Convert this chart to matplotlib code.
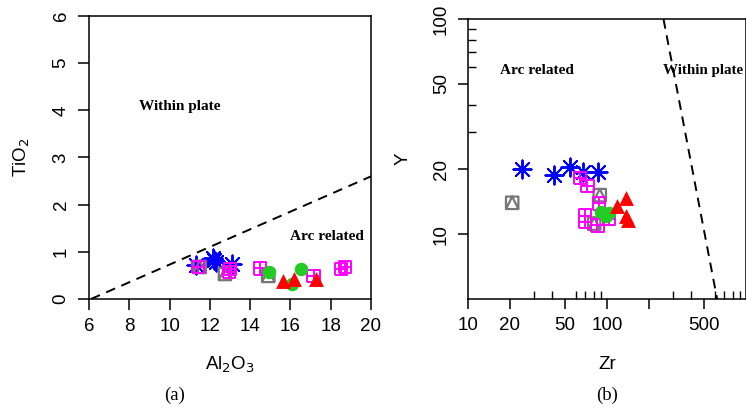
import matplotlib
matplotlib.use("Agg")
import matplotlib.pyplot as plt
from matplotlib.path import Path

# ---- data: panel (a) Al2O3 vs TiO2 ----
a_star_x = [11.3, 12.15, 12.3, 12.2, 13.1]
a_star_y = [0.72, 0.86, 0.78, 0.82, 0.74]
a_grey_x = [11.5, 12.75, 14.9]
a_grey_y = [0.68, 0.53, 0.49]
a_mag_x = [11.4, 12.95, 13.0, 14.5, 17.15, 18.5, 18.7]
a_mag_y = [0.68, 0.57, 0.64, 0.65, 0.49, 0.64, 0.68]
a_green_x = [14.95, 16.55, 16.1]
a_green_y = [0.58, 0.63, 0.32]
a_red_x = [15.65, 16.2, 17.27]
a_red_y = [0.38, 0.42, 0.42]
a_line_x = [6.1, 20.0]
a_line_y = [0.0, 2.6]

# ---- data: panel (b) Zr vs Y ----
b_star_x = [24.6, 41.8, 54.5, 66.7, 86.7]
b_star_y = [20.2, 18.8, 20.6, 19.5, 19.5]
b_grey_x = [20.8, 88.7, 80.8]
b_grey_y = [14.0, 15.2, 11.2]
b_mag_x = [64.1, 72.3, 87.7, 69.6, 69.6, 85.3, 103.0]
b_mag_y = [18.3, 16.8, 13.9, 12.2, 11.4, 11.0, 11.8]
b_green_x = [90.2, 97.8, 103.0]
b_green_y = [12.7, 12.2, 12.6]
b_red_x = [118.6, 136.0, 136.0, 142.0]
b_red_y = [13.6, 14.8, 12.2, 11.7]
b_line_x = [255.0, 620.0]
b_line_y = [100.0, 5.0]

# R-style markers: pch 14 (square + triangle) and pch 12 (boxplus)
M, L = Path.MOVETO, Path.LINETO
sq_tri = Path([(-1, -1), (1, -1), (1, 1), (-1, 1), (-1, -1), (0, 1), (1, -1)],
              [M, L, L, L, L, L, L])
box_plus = Path([(-1, -1), (1, -1), (1, 1), (-1, 1), (-1, -1),
                 (0, -1), (0, 1), (-1, 0), (1, 0)],
                [M, L, L, L, L, M, L, M, L])
star = (8, 2, 0)

plt.rcParams["font.family"] = ["Liberation Sans", "DejaVu Sans"]
fig = plt.figure(figsize=(7.46, 4.11), dpi=100)
ax1 = fig.add_axes([0.1193, 0.2725, 0.378, 0.6886])
ax2 = fig.add_axes([0.6273, 0.2725, 0.3727, 0.681])


def draw_points(ax, sx, sy, gx, gy, mx, my, cx, cy, rx, ry):
    ax.scatter(sx, sy, marker=star, s=170, c="blue", linewidths=1.4, zorder=3)
    ax.scatter(gx, gy, marker=sq_tri, s=80, facecolors="none",
               edgecolors="#777777", linewidths=1.6, zorder=3)
    ax.scatter(mx, my, marker=box_plus, s=80, facecolors="none",
               edgecolors="#ff00ff", linewidths=1.4, zorder=3)
    ax.scatter(cx, cy, marker="o", s=95, c="#22cc22", linewidths=0, zorder=3)
    ax.scatter(rx, ry, marker="^", s=115, c="red", linewidths=0, zorder=3)


serif = ["Liberation Serif", "DejaVu Serif"]

# ---- panel (a) ----
draw_points(ax1, a_star_x, a_star_y, a_grey_x, a_grey_y, a_mag_x, a_mag_y,
            a_green_x, a_green_y, a_red_x, a_red_y)
ax1.plot(a_line_x, a_line_y, "k--", lw=1.4, dashes=(5, 3.5))
ax1.set_xlim(6, 20)
ax1.set_ylim(0, 6)
ax1.set_xticks(range(6, 21, 2))
ax1.set_yticks(range(0, 7))
ax1.tick_params(direction="out", length=8, width=1.1, labelsize=13.5, pad=6)
for lab in ax1.get_yticklabels():
    lab.set_rotation(90)
    lab.set_va("center")
ax1.set_xlabel("Al$_2$O$_3$", fontsize=13.5, labelpad=14)
ax1.set_ylabel("TiO$_2$", fontsize=13.5, labelpad=15)
ax1.text(8.5, 4.09, "Within plate", family=serif, weight="bold", fontsize=11,
         va="center")
ax1.text(17.8, 1.33, "Arc related", family=serif, weight="bold", fontsize=11,
         ha="center", va="center")
ax1.text(0.305, -0.34, "(a)", transform=ax1.transAxes, family=serif,
         fontsize=13.5, ha="center", va="center")

# ---- panel (b) ----
draw_points(ax2, b_star_x, b_star_y, b_grey_x, b_grey_y, b_mag_x, b_mag_y,
            b_green_x, b_green_y, b_red_x, b_red_y)
ax2.plot(b_line_x, b_line_y, "k--", lw=1.4, dashes=(5, 3.5))
ax2.set_xscale("log")
ax2.set_yscale("log")
ax2.set_xlim(10, 1000)
ax2.set_ylim(5, 100)
ax2.set_xticks([10, 20, 50, 100, 200, 500])
ax2.set_xticklabels(["10", "20", "50", "100", "", "500"])
ax2.set_xticks([30, 40, 60, 70, 80, 90, 300, 400, 600, 700, 800, 900],
               minor=True)
ax2.set_yticks([10, 20, 50, 100])
ax2.set_yticklabels(["10", "20", "50", "100"])
ax2.set_yticks([30, 40, 60, 70, 80, 90], minor=True)
ax2.tick_params(which="major", direction="out", length=7, width=1.1,
                labelsize=13.5, pad=6)
ax2.tick_params(which="minor", direction="in", length=6, width=1.0)
ax2.yaxis.set_minor_formatter(matplotlib.ticker.NullFormatter())
ax2.xaxis.set_minor_formatter(matplotlib.ticker.NullFormatter())
for lab in ax2.get_yticklabels():
    lab.set_rotation(90)
    lab.set_va("center")
ax2.set_xlabel("Zr", fontsize=13.5, labelpad=16)
ax2.set_ylabel("Y", fontsize=13.5, labelpad=15)
ax2.text(31.6, 58, "Arc related", family=serif, weight="bold", fontsize=11,
         ha="center", va="center")
ax2.text(252, 58, "Within plate", family=serif, weight="bold", fontsize=10.8,
         va="center")
ax2.text(0.5, -0.343, "(b)", transform=ax2.transAxes, family=serif,
         fontsize=13.5, ha="center", va="center")

for ax in (ax1, ax2):
    for sp in ax.spines.values():
        sp.set_linewidth(1.1)

fig.savefig("out.png", dpi=100)
